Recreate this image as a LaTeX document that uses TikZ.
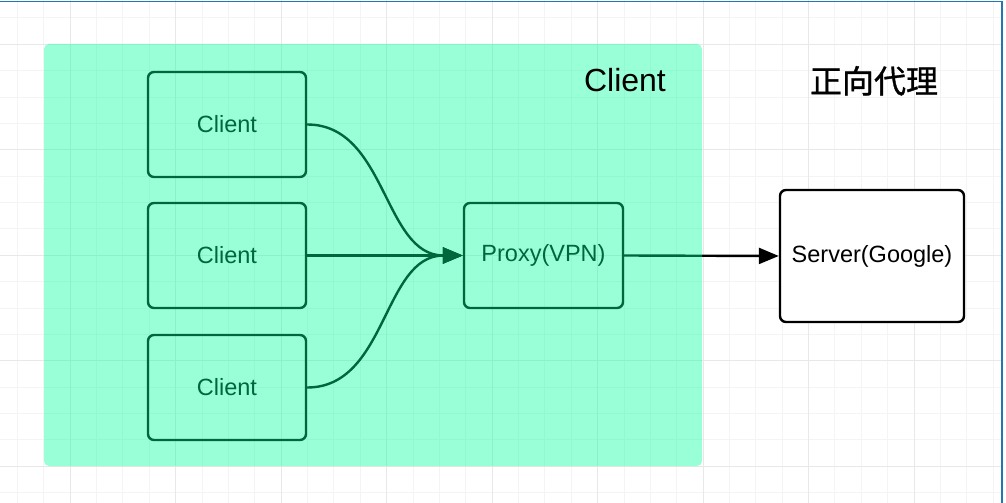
\documentclass[tikz,border=0pt]{standalone}
\usepackage{fontspec}
\setmainfont{Liberation Sans}
\newfontfamily\cjkfont[FakeBold=1]{Noto Sans CJK SC}
\usetikzlibrary{arrows.meta,positioning}

\definecolor{gridminor}{RGB}{244,244,244}
\definecolor{gridmajor}{RGB}{232,232,232}
\definecolor{mint}{RGB}{0,255,152}
\definecolor{frameblue}{RGB}{31,119,180}

\tikzset{
  box/.style={draw=black, line width=2.4pt, rounded corners=6pt,
    minimum width=158pt, minimum height=105pt, inner sep=0pt,
    font=\fontsize{23.5}{28}\selectfont},
  link/.style={line width=2.4pt, -{Triangle[length=20pt,width=16pt]}},
}

\begin{document}
\begin{tikzpicture}[x=1pt,y=-1pt]
    \useasboundingbox (0,0) rectangle (1006,503);

    % Grid
    \foreach \i in {0,...,37}
        \draw[gridminor, line width=1pt] ({17.5+26.37*\i},0) -- ({17.5+26.37*\i},503);
    \foreach \j in {0,...,18}
        \draw[gridminor, line width=1pt] (0,{18+26.37*\j}) -- (1002,{18+26.37*\j});
    \foreach \i in {2,6,...,34}
        \draw[gridmajor, line width=1pt] ({17.5+26.37*\i},0) -- ({17.5+26.37*\i},503);
    \foreach \j in {1,5,...,17}
        \draw[gridmajor, line width=1pt] (0,{18+26.37*\j}) -- (1002,{18+26.37*\j});

    % Clients and proxy
    \node[box] (c1) at (227,124.5) {Client};
    \node[box] (c2) at (227,255.5) {Client};
    \node[box] (c3) at (227,387.5) {Client};
    \node[box, minimum width=159pt] (proxy) at (543.5,255.5) {Proxy(VPN)};

    % Server
    \node[box, fill=white, minimum width=184pt, minimum height=132pt] (server) at (872,256) {Server(Google)};

    \draw[link] (c1.east) to[out=0,in=180] (proxy.west);
    \draw[link] (c2.east) -- (proxy.west);
    \draw[link] (c3.east) to[out=0,in=180] (proxy.west);
    \draw[link] (proxy.east) -- (server.west);

    % Client side region
    \fill[mint, fill opacity=0.4, rounded corners=5pt] (44,44) rectangle (702,466);

    \node[anchor=base, font=\fontsize{32}{38}\selectfont] (zone) at (625,92) {Client};
    \node[anchor=base, font=\cjkfont\fontsize{32}{38}\selectfont] (mode) at (874,93) {正向代理};

    % Frame
    \draw[frameblue, line width=1.8pt] (0,1.5) -- (1002,1.5) -- (1002,503);
\end{tikzpicture}
\end{document}
